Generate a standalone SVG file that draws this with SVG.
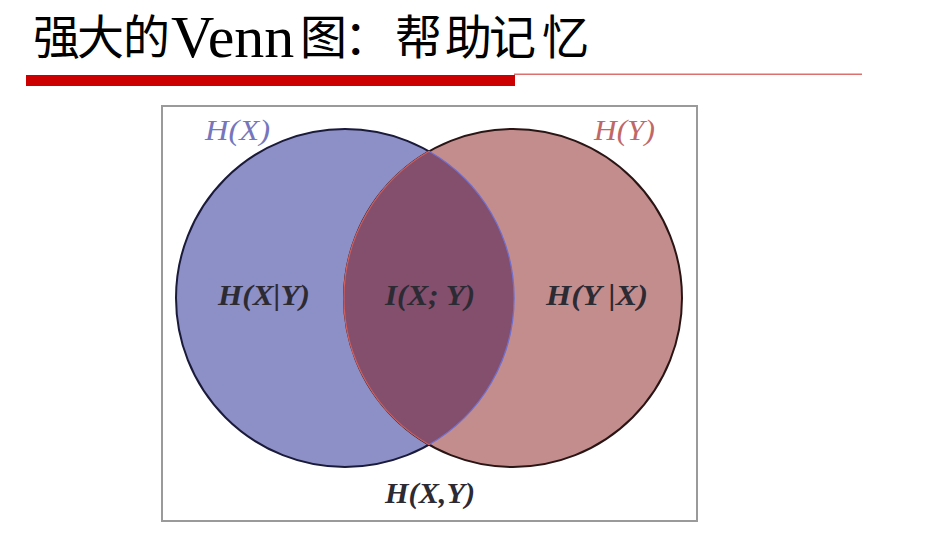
<svg xmlns="http://www.w3.org/2000/svg" width="945" height="547" viewBox="0 0 945 547">
<style>
.t{font-family:"Liberation Serif","Times New Roman",serif;font-style:italic;font-weight:bold;font-size:29px;fill:#2c2a33}
.title{font-family:"Noto Sans CJK SC","Liberation Sans",sans-serif;font-size:47px;fill:#000}
.venn{font-family:"Liberation Serif","Times New Roman",serif;font-size:60px}
</style>
<rect width="945" height="547" fill="#fff"/>
<g id="title">
<text class="title" y="54"><tspan x="33 77 123">强大的</tspan><tspan class="venn" x="171" y="57">Venn</tspan><tspan x="300 344 395 445 489 542" y="54">图：帮助记忆</tspan></text>
<line x1="514" y1="74.3" x2="862" y2="74.3" stroke="#DD6F6F" stroke-width="1.5"/>
<rect x="26" y="75" width="489" height="11" fill="#CC0000"/>
</g>
<g id="frame">
<rect x="162" y="106" width="535" height="415" fill="#fff" stroke="#9a9a9a" stroke-width="2"/>
</g>
<g id="venn">
<circle id="hx" cx="345" cy="298" r="169" fill="#8D8FC7" stroke="#1a1a3a" stroke-width="2"/>
<circle id="hy" cx="513" cy="298" r="169" fill="#C48D8D" stroke="#2a1515" stroke-width="2"/>
<path id="ixy" d="M429 151.3 A169 169 0 0 1 429 444.7 A169 169 0 0 1 429 151.3 Z" fill="#844E6D"/>
<path d="M429 151.3 A169 169 0 0 1 429 444.7" fill="none" stroke="#7070D0" stroke-width="1.3"/>
<path d="M429 444.7 A169 169 0 0 1 429 151.3" fill="none" stroke="#D06060" stroke-width="1.3"/>
</g>
<g id="labels">
<text class="t" x="205" y="140" textLength="65" lengthAdjust="spacingAndGlyphs" style="fill:#7676BE;font-weight:normal">H(X)</text>
<text class="t" x="594" y="140" textLength="61" lengthAdjust="spacingAndGlyphs" style="fill:#C06868;font-weight:normal">H(Y)</text>
<text class="t" x="218" y="305" textLength="92" lengthAdjust="spacingAndGlyphs">H(X|Y)</text>
<text class="t" x="385" y="305" textLength="90" lengthAdjust="spacingAndGlyphs">I(X; Y)</text>
<text class="t" x="546" y="305" textLength="102" lengthAdjust="spacingAndGlyphs">H(Y |X)</text>
<text class="t" x="385" y="503" textLength="90" lengthAdjust="spacingAndGlyphs">H(X,Y)</text>
</g>
</svg>
